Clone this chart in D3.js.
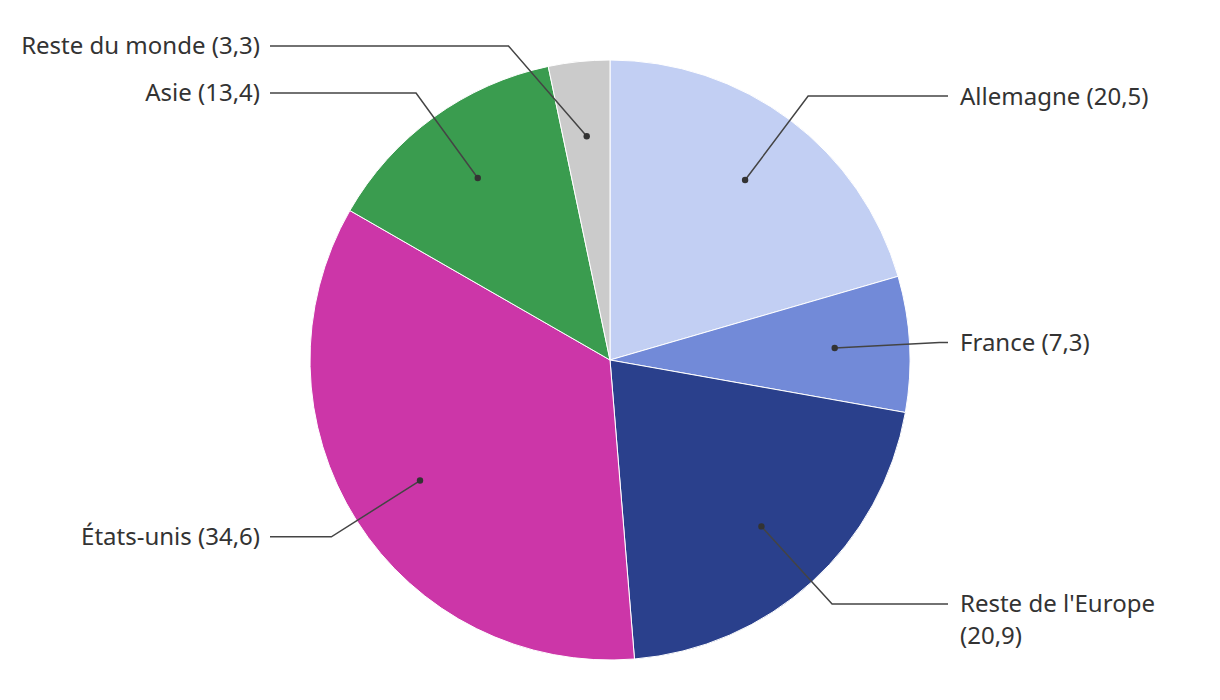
<!DOCTYPE html>
<html><head><meta charset="utf-8">
<script src="https://cdn.jsdelivr.net/npm/d3@7"></script>
<style>body{margin:0;background:#fff}svg{display:block}</style>
</head><body>
<svg id="chart" width="1220" height="700"></svg>
<script>
const categories = ["Allemagne", "France", "Reste de l'Europe", "États-unis", "Asie", "Reste du monde"];
const values = [20.5, 7.3, 20.9, 34.6, 13.4, 3.3];
const colors = ["#c2cff3", "#728ad8", "#2a408c", "#cc36a8", "#3a9c4f", "#cbcbcb"];

const W = 1220, H = 700, cx = 610, cy = 360, R = 300;
const svg = d3.select("#chart");
const g = svg.append("g").attr("transform", `translate(${cx},${cy})`);
const fmt = v => String(v).replace(".", ",");
const data = categories.map((c, i) => ({name: c, value: values[i], color: colors[i]}));
const pie = d3.pie().value(d => d.value).sort(null);
const arcs = pie(data);
const arc = d3.arc().innerRadius(0).outerRadius(R);

g.selectAll("path.slice").data(arcs).join("path")
  .attr("class", "slice")
  .attr("d", arc)
  .attr("fill", d => d.data.color)
  .attr("stroke", "#fff").attr("stroke-width", 1);

const minY = -314, maxY = 314;
arcs.forEach(a => {
  const m = (a.startAngle + a.endAngle) / 2;
  const s = Math.sin(m), c = -Math.cos(m);
  const dx = s * R * 0.75, dy = c * R * 0.75;
  let ey = c * R * 1.1;
  ey = Math.max(minY, Math.min(maxY, ey));
  const ex = (s >= 0 ? 1 : -1) * Math.sqrt(Math.max(0, (R * 1.1) ** 2 - ey * ey));
  const right = s >= 0;
  const hx = right ? 338 : -340;
  g.append("polyline")
    .attr("points", `${dx},${dy} ${ex},${ey} ${hx},${ey}`)
    .attr("fill", "none").attr("stroke", "#444").attr("stroke-width", 1.5);
  g.append("circle").attr("cx", dx).attr("cy", dy).attr("r", 3.2).attr("fill", "#333");
  const tx = right ? hx + 12 : hx - 10;
  const t = g.append("text")
    .attr("x", tx)
    .attr("y", ey)
    .attr("text-anchor", right ? "start" : "end")
    .attr("font-family", "'Noto Sans', 'Open Sans', sans-serif")
    .attr("font-size", 24).attr("fill", "#333");
  const full = `${a.data.name} (${fmt(a.data.value)})`;
  const ts = t.append("tspan").attr("x", tx).attr("dy", "0.35em").text(full);
  if (ts.node().getComputedTextLength() > 250) {
    ts.text(a.data.name);
    t.append("tspan").attr("x", tx).attr("dy", 32).text(`(${fmt(a.data.value)})`);
  }
});
</script>
</body></html>
